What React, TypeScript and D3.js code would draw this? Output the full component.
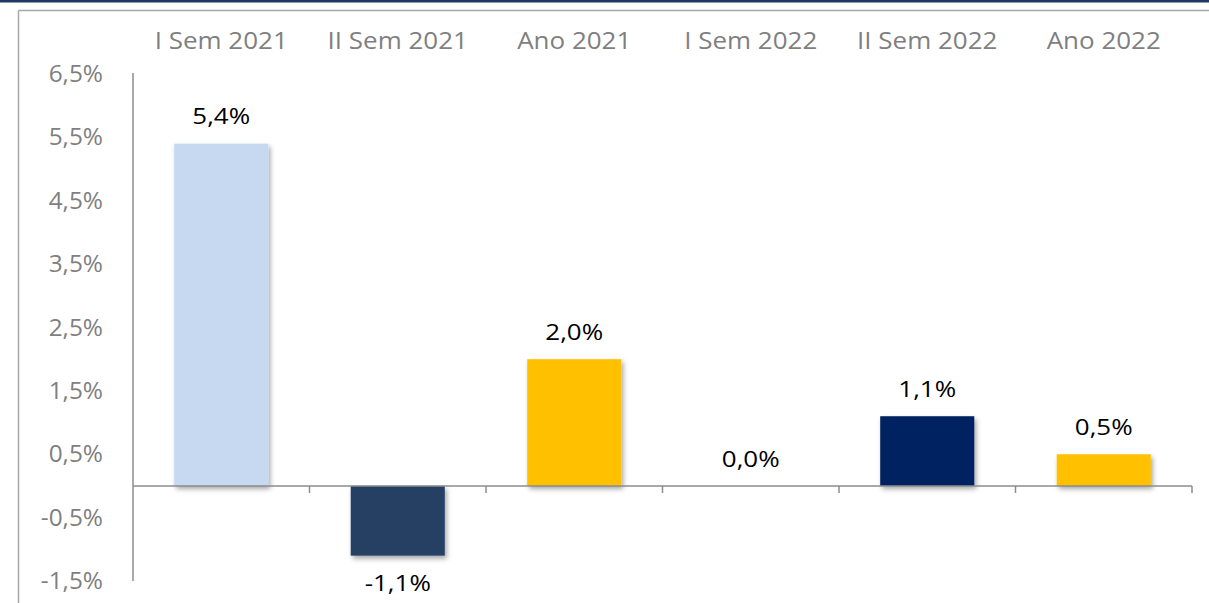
import React from 'react';
import * as d3 from 'd3';

const categories = ['I Sem 2021', 'II Sem 2021', 'Ano 2021', 'I Sem 2022', 'II Sem 2022', 'Ano 2022'];
const values = [5.4, -1.1, 2.0, 0.0, 1.1, 0.5];
const barColors = ['#c6d9f1', '#264063', '#ffc000', '#ffc000', '#002060', '#ffc000'];
const yTicks = [-1.5, -0.5, 0.5, 1.5, 2.5, 3.5, 4.5, 5.5, 6.5];

const width = 1209;
const height = 603;
const margin = { top: 74, right: 17, bottom: 22, left: 133 };

const ptBR = d3.formatLocale({ decimal: ',', thousands: '.', grouping: [3], currency: ['R$', ''], minus: '-' });
const fmt = ptBR.format('.1f');
const font = "'Open Sans', 'Noto Sans', sans-serif";

// the original text is a little wider than Open Sans, so stretch it sideways
const Label = ({ x, y, anchor, size, fill, sx, children }: any) => (
  <text transform={`translate(${x},${y}) scale(${sx},1)`} dy="0.35em" textAnchor={anchor}
    fontFamily={font} fontSize={size} fill={fill}>
    {children}
  </text>
);

const App = () => {
  const x = d3.scaleBand<string>()
    .domain(categories)
    .range([margin.left, width - margin.right])
    .padding(0);
  const y = d3.scaleLinear().domain([-1.5, 6.5]).range([height - margin.bottom, margin.top]);
  const barW = x.bandwidth() * 0.533;
  const y0 = y(0);

  return (
    <svg width={width} height={height} style={{ position: 'absolute', left: 0, top: 0, background: '#fff' }}>
      <defs>
        <filter id="shadow" x="-20%" y="-20%" width="150%" height="150%">
          <feDropShadow dx="2" dy="3" stdDeviation="2.5" floodColor="#000" floodOpacity="0.35" />
        </filter>
      </defs>

      {/* frame */}
      <rect x={0} y={0} width={width} height={2.5} fill="#1f3864" />
      <line x1={18.5} y1={10.5} x2={width} y2={10.5} stroke="#a6a6a6" strokeWidth={1.5} />
      <line x1={18.5} y1={10.5} x2={18.5} y2={height} stroke="#a6a6a6" strokeWidth={1.5} />

      {/* bars */}
      {values.map((v, i) => {
        const cx = x(categories[i])! + x.bandwidth() / 2;
        const top = Math.min(y(v), y0);
        const h = Math.abs(y(v) - y0);
        return h > 0.5 ? (
          <rect key={i} x={cx - barW / 2} y={top} width={barW} height={h} fill={barColors[i]} filter="url(#shadow)" />
        ) : null;
      })}

      {/* y axis */}
      <line x1={margin.left} y1={y(6.5) - 1} x2={margin.left} y2={y(-1.5)} stroke="#8c8c8c" strokeWidth={1.5} />
      {yTicks.map(t => (
        <Label key={t} x={103} y={y(t)} anchor="end" size={23} fill="#7f7f7f" sx={1.06}>
          {fmt(t)}%
        </Label>
      ))}

      {/* x axis at zero */}
      <line x1={margin.left} y1={y0} x2={width - margin.right} y2={y0} stroke="#8c8c8c" strokeWidth={1.5} />
      {categories.map(c => (
        <line key={c} x1={x(c)! + x.bandwidth()} y1={y0} x2={x(c)! + x.bandwidth()} y2={y0 + 7} stroke="#8c8c8c" strokeWidth={1.5} />
      ))}

      {/* category labels */}
      {categories.map(c => (
        <Label key={c} x={x(c)! + x.bandwidth() / 2} y={41} anchor="middle" size={23} fill="#7f7f7f" sx={1.13}>
          {c}
        </Label>
      ))}

      {/* value labels */}
      {values.map((v, i) => {
        const cx = x(categories[i])! + x.bandwidth() / 2;
        const ly = v < 0 ? y(v) + 28 : y(v) - 27;
        return (
          <Label key={i} x={cx} y={ly} anchor="middle" size={22} fill="#000" sx={1.18}>
            {fmt(v)}%
          </Label>
        );
      })}
    </svg>
  );
};

export default App;
